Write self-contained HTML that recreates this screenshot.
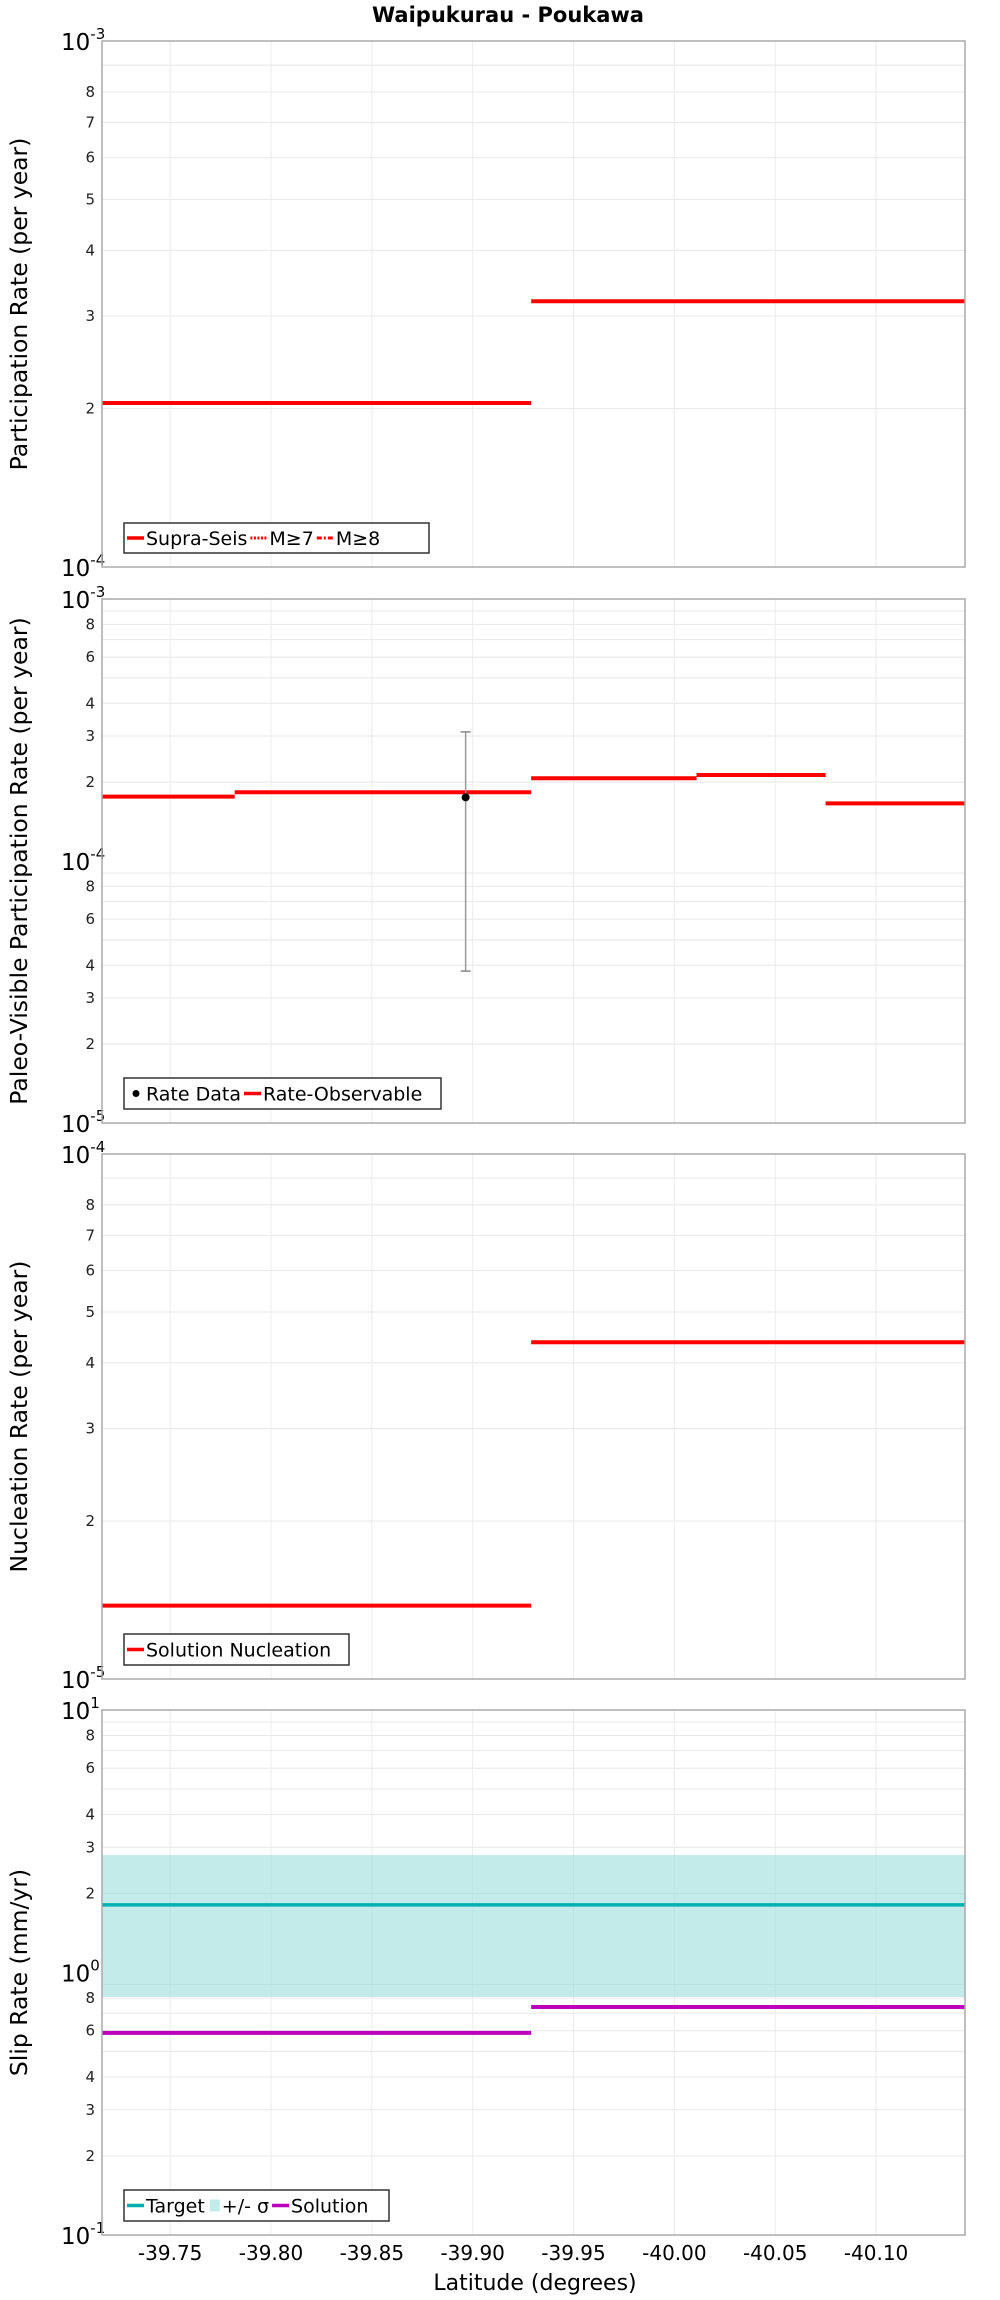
<!DOCTYPE html>
<html><head><meta charset="utf-8"><title>Waipukurau - Poukawa</title>
<style>
html,body{margin:0;padding:0;background:#fff;}
svg{display:block;font-family:"DejaVu Sans","Liberation Sans",sans-serif;}
</style></head>
<body>
<svg id="chart" xmlns="http://www.w3.org/2000/svg" width="1000" height="2300" viewBox="0 0 1000 2300">
<text x="508" y="22" text-anchor="middle" font-size="21" font-weight="bold" fill="#000">Waipukurau - Poukawa</text>
<text x="535" y="2290" text-anchor="middle" font-size="22" fill="#000">Latitude (degrees)</text>
</svg>
<script>
// ---- data ----
const xTicks = [-39.75,-39.80,-39.85,-39.90,-39.95,-40.00,-40.05,-40.10];
const xTickLabels = ["-39.75","-39.80","-39.85","-39.90","-39.95","-40.00","-40.05","-40.10"];
const p1Start = [-39.7162,-39.929];
const p1End = [-39.929,-40.1441];
const p1Values = [2.05e-4,3.2e-4];
const p2Start = [-39.7162,-39.782,-39.929,-40.011,-40.075];
const p2End = [-39.782,-39.929,-40.011,-40.075,-40.1441];
const p2Values = [1.76e-4,1.83e-4,2.07e-4,2.13e-4,1.66e-4];
const rateDataLat = [-39.8965];
const rateDataValue = [1.75e-4];
const rateDataLow = [3.8e-5];
const rateDataHigh = [3.11e-4];
const p3Start = [-39.7162,-39.929];
const p3End = [-39.929,-40.1441];
const p3Values = [1.38e-5,4.38e-5];
const slipTarget = [1.81];
const slipSigmaLow = [0.807];
const slipSigmaHigh = [2.8];
const p4Start = [-39.7162,-39.929];
const p4End = [-39.929,-40.1441];
const p4Values = [0.589,0.739];

// ---- layout ----
const NS = "http://www.w3.org/2000/svg";
const svg = document.getElementById('chart');
const L = 102, R = 965, X0 = -39.7162, X1 = -40.1441;
function xs(v){ return L + (v - X0) / (X1 - X0) * (R - L); }
function mk(tag, attrs, parent){
  const e = document.createElementNS(NS, tag);
  for (const k in attrs) e.setAttribute(k, attrs[k]);
  (parent || svg).appendChild(e);
  return e;
}
const panels = [
  {id:'participation', top:41, bottom:567, eMin:-4, eMax:-3, minor:[2,3,4,5,6,7,8], title:'Participation Rate (per year)'},
  {id:'paleo', top:599, bottom:1123, eMin:-5, eMax:-3, minor:[2,3,4,6,8], title:'Paleo-Visible Participation Rate (per year)'},
  {id:'nucleation', top:1154, bottom:1679, eMin:-5, eMax:-4, minor:[2,3,4,5,6,7,8], title:'Nucleation Rate (per year)'},
  {id:'slip', top:1710, bottom:2235, eMin:-1, eMax:1, minor:[2,3,4,6,8], title:'Slip Rate (mm/yr)'}
];
function ysFor(p){ return v => p.bottom - (Math.log10(v) - p.eMin) / (p.eMax - p.eMin) * (p.bottom - p.top); }

panels.forEach((p, pi) => {
  const ys = ysFor(p);
  p.ys = ys;
  const g = mk('g', {});
  
  
  p.g = g;
  const bg = mk('rect', {x:L, y:p.top, width:R-L, height:p.bottom-p.top, fill:'#fff'}, g);
  
  
  for (let e = p.eMin; e < p.eMax; e++) {
    for (let m = 1; m <= 9; m++) {
      const v = m * Math.pow(10, e);
      const y = ys(v);
      if (m > 1) {
        const gl = mk('line', {x1:L, x2:R, y1:y, y2:y, stroke:'#e8e8e8', 'stroke-width':1}, g);
        
        
        if (p.minor.indexOf(m) >= 0) {
          const t = mk('text', {x:95, y:y+5, 'text-anchor':'end', 'font-size':15, fill:'#222'}, g);
          
          
          t.textContent = String(m);
        }
      }
    }
  }
  for (let e = p.eMin; e <= p.eMax; e++) {
    const y = ys(Math.pow(10, e));
    const t = mk('text', {x:61, y:y+9, 'font-size':23, fill:'#000'}, g);
    
    
    t.textContent = '10';
    const s = mk('tspan', {dy:-11, 'font-size':15}, t);
    
    
    s.textContent = String(e);
  }
  xTicks.forEach((v, i) => {
    const gl = mk('line', {x1:xs(v), x2:xs(v), y1:p.top, y2:p.bottom, stroke:'#ececec', 'stroke-width':1}, g);
    
    
    if (pi === panels.length - 1) {
      const t = mk('text', {x:xs(v), y:2260, 'text-anchor':'middle', 'font-size':20, fill:'#000'}, svg);
      
      
      t.textContent = xTickLabels[i];
    }
  });
  const cy = (p.top + p.bottom) / 2;
  const yt = mk('text', {x:0, y:0, transform:'translate(27,' + cy + ') rotate(-90)', 'text-anchor':'middle', 'font-size':23.5, fill:'#000'}, g);
  
  
  yt.textContent = p.title;
});

function steps(p, starts, ends, vals, color, name) {
  for (let i = 0; i < vals.length; i++) {
    const y = p.ys(vals[i]);
    const ln = mk('line', {x1:xs(starts[i]), x2:xs(ends[i]), y1:y, y2:y, stroke:color, 'stroke-width':4}, p.g);
    
    
  }
}
function border(p){
  const b = mk('rect', {x:L, y:p.top, width:R-L, height:p.bottom-p.top, fill:'none', stroke:'#aaa', 'stroke-width':1.5}, p.g);
  
  
}
function legend(p, x, y, w, h, items) {
  const lg = mk('g', {}, p.g);
  
  
  const box = mk('rect', {x:x, y:y, width:w, height:h, fill:'#fff', stroke:'#333', 'stroke-width':1.5}, lg);
  
  
  let cx = x + 3;
  const my = y + h / 2;
  items.forEach(it => {
    let sw;
    if (it.kind === 'rect') {
      sw = mk('rect', {x:cx+2, y:my-6, width:10, height:12, fill:it.color}, lg);
      cx += 14;
    } else {
      sw = mk('line', {x1:cx, x2:cx+17, y1:my, y2:my, stroke:it.color, 'stroke-width':it.w || 3.5, 'stroke-dasharray':it.dash || 'none'}, lg);
      cx += 19;
    }
    
    
    if (it.kind === 'dot') {
      sw.setAttribute('stroke', 'none');
      const d = mk('circle', {cx:cx-10, cy:my, r:3.5, fill:'#000'}, lg);
      
      
    }
    const t = mk('text', {x:cx, y:my+7, 'font-size':19, fill:'#000'}, lg);
    
    
    t.textContent = it.label;
    cx += t.getComputedTextLength() + 3;
  });
}

steps(panels[0], p1Start, p1End, p1Values, '#ff0000', 'supra-seis');
border(panels[0]);
legend(panels[0], 124, 523, 305, 30, [
  {label:'Supra-Seis', color:'#ff0000'},
  {label:'M≥7', color:'#ff0000', w:3, dash:'2,1.5'},
  {label:'M≥8', color:'#ff0000', w:3, dash:'5,2,2,2'}
]);

steps(panels[1], p2Start, p2End, p2Values, '#ff0000', 'rate-observable');
rateDataLat.forEach((lat, i) => {
  const p = panels[1], x = xs(lat);
  const eb = mk('line', {x1:x, x2:x, y1:p.ys(rateDataHigh[i]), y2:p.ys(rateDataLow[i]), stroke:'#999', 'stroke-width':1.5}, p.g);
  
  
  [rateDataHigh[i], rateDataLow[i]].forEach(v => {
    const c = mk('line', {x1:x-5, x2:x+5, y1:p.ys(v), y2:p.ys(v), stroke:'#888', 'stroke-width':1.5}, p.g);
    
    
  });
  const pt = mk('circle', {cx:x, cy:p.ys(rateDataValue[i]), r:4, fill:'#000'}, p.g);
  
  
});
border(panels[1]);
legend(panels[1], 124, 1078, 317, 31, [
  {label:'Rate Data', color:'#000', kind:'dot'},
  {label:'Rate-Observable', color:'#ff0000'}
]);

steps(panels[2], p3Start, p3End, p3Values, '#ff0000', 'solution-nucleation');
border(panels[2]);
legend(panels[2], 124, 1634, 225, 31, [
  {label:'Solution Nucleation', color:'#ff0000'}
]);

(function(){
  const p = panels[3];
  const band = mk('rect', {x:L, y:p.ys(slipSigmaHigh[0]), width:R-L, height:p.ys(slipSigmaLow[0]) - p.ys(slipSigmaHigh[0]), fill:'#9edfdc', 'fill-opacity':0.62}, p.g);
  
  
  const ty = p.ys(slipTarget[0]);
  const tl = mk('line', {x1:L, x2:R, y1:ty, y2:ty, stroke:'#00b0b0', 'stroke-width':3.5}, p.g);
  
  
  steps(p, p4Start, p4End, p4Values, '#bb00bb', 'solution-slip');
  border(p);
  legend(p, 124, 2190, 265, 31, [
    {label:'Target', color:'#00b0b0'},
    {label:'+/- σ', color:'#c2ecea', kind:'rect'},
    {label:'Solution', color:'#bb00bb'}
  ]);
})();
</script>
</body></html>
